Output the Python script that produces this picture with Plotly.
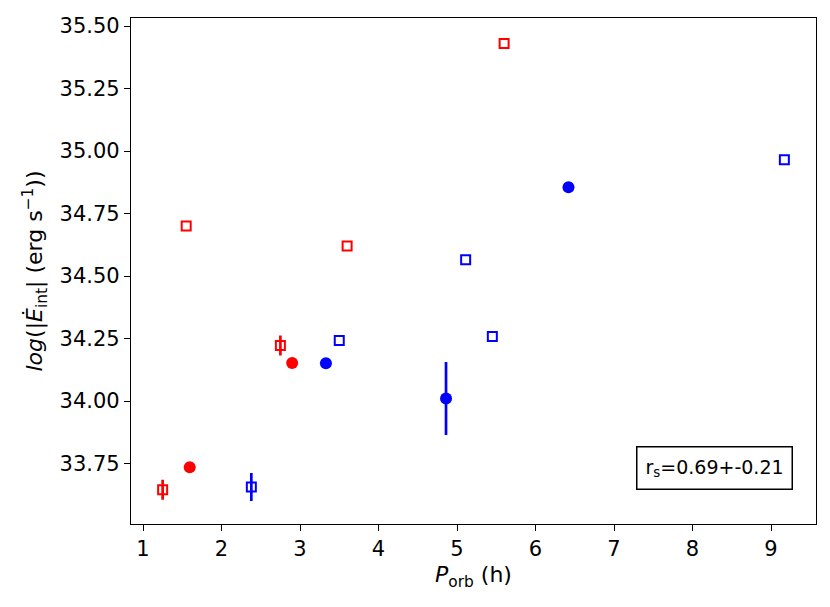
import plotly.graph_objects as go

# red open squares
red_sq_x = [1.25, 1.55, 2.75, 3.60, 5.60]
red_sq_y = [33.645, 34.70, 34.222, 34.62, 35.43]
red_sq_err = [0.04, 0.0, 0.04, 0.0, 0.0]

# red filled circles
red_ci_x = [1.595, 2.90]
red_ci_y = [33.735, 34.152]

# blue open squares
blue_sq_x = [2.38, 3.50, 5.11, 5.45, 9.17]
blue_sq_y = [33.656, 34.242, 34.565, 34.258, 34.965]
blue_sq_err = [0.056, 0.0, 0.0, 0.0, 0.0]

# blue filled circles
blue_ci_x = [3.33, 4.86, 6.42]
blue_ci_y = [34.151, 34.01, 34.855]
blue_ci_err = [0.0, 0.146, 0.0]

font = 'DejaVu Sans'
fig = go.Figure()


def err(vals, color):
    return dict(type='data', array=vals, visible=True, width=0, thickness=2.7, color=color)


fig.add_trace(go.Scatter(x=red_sq_x, y=red_sq_y, mode='markers', error_y=err(red_sq_err, 'red'),
                         marker=dict(symbol='square-open', size=9, color='red', line=dict(width=2))))
fig.add_trace(go.Scatter(x=red_ci_x, y=red_ci_y, mode='markers',
                         marker=dict(symbol='circle', size=12, color='red')))
fig.add_trace(go.Scatter(x=blue_sq_x, y=blue_sq_y, mode='markers', error_y=err(blue_sq_err, 'blue'),
                         marker=dict(symbol='square-open', size=9, color='blue', line=dict(width=2))))
fig.add_trace(go.Scatter(x=blue_ci_x, y=blue_ci_y, mode='markers', error_y=err(blue_ci_err, 'blue'),
                         marker=dict(symbol='circle', size=12, color='blue')))

# correlation box
fig.add_annotation(x=0.852, y=0.110, xref='paper', yref='paper', xanchor='center', yanchor='middle',
                   showarrow=False, text='r<sub>s</sub>=0.69+-0.21',
                   font=dict(family=font, size=19, color='black'),
                   bordercolor='black', borderwidth=1.5, borderpad=8, bgcolor='white')

axis_style = dict(showline=True, linecolor='black', linewidth=1.3, mirror=True, showgrid=False,
                  zeroline=False, ticks='outside', ticklen=6, tickwidth=1.3, tickcolor='black',
                  tickfont=dict(family=font, size=21, color='black'))

# page body adds ~8px offset, margins compensate
fig.update_layout(
    width=830, height=607,
    margin=dict(l=123, r=22, t=6, b=91),
    plot_bgcolor='white', paper_bgcolor='white',
    showlegend=False,
    font=dict(family=font, color='black'),
    xaxis=dict(range=[0.847, 9.573], tickvals=[1, 2, 3, 4, 5, 6, 7, 8, 9],
               title=dict(text='<i>P</i><sub>orb</sub> (h)', font=dict(family=font, size=22), standoff=6),
               **axis_style),
    yaxis=dict(range=[33.508, 35.532], tickvals=[33.75, 34.0, 34.25, 34.5, 34.75, 35.0, 35.25, 35.5],
               tickformat='.2f',
               title=dict(text='<i>log</i>(|<i>Ė</i><sub>int</sub>| (erg s<sup>−1</sup>))',
                          font=dict(family=font, size=22), standoff=10),
               **axis_style),
)

fig.write_html('out.html')
